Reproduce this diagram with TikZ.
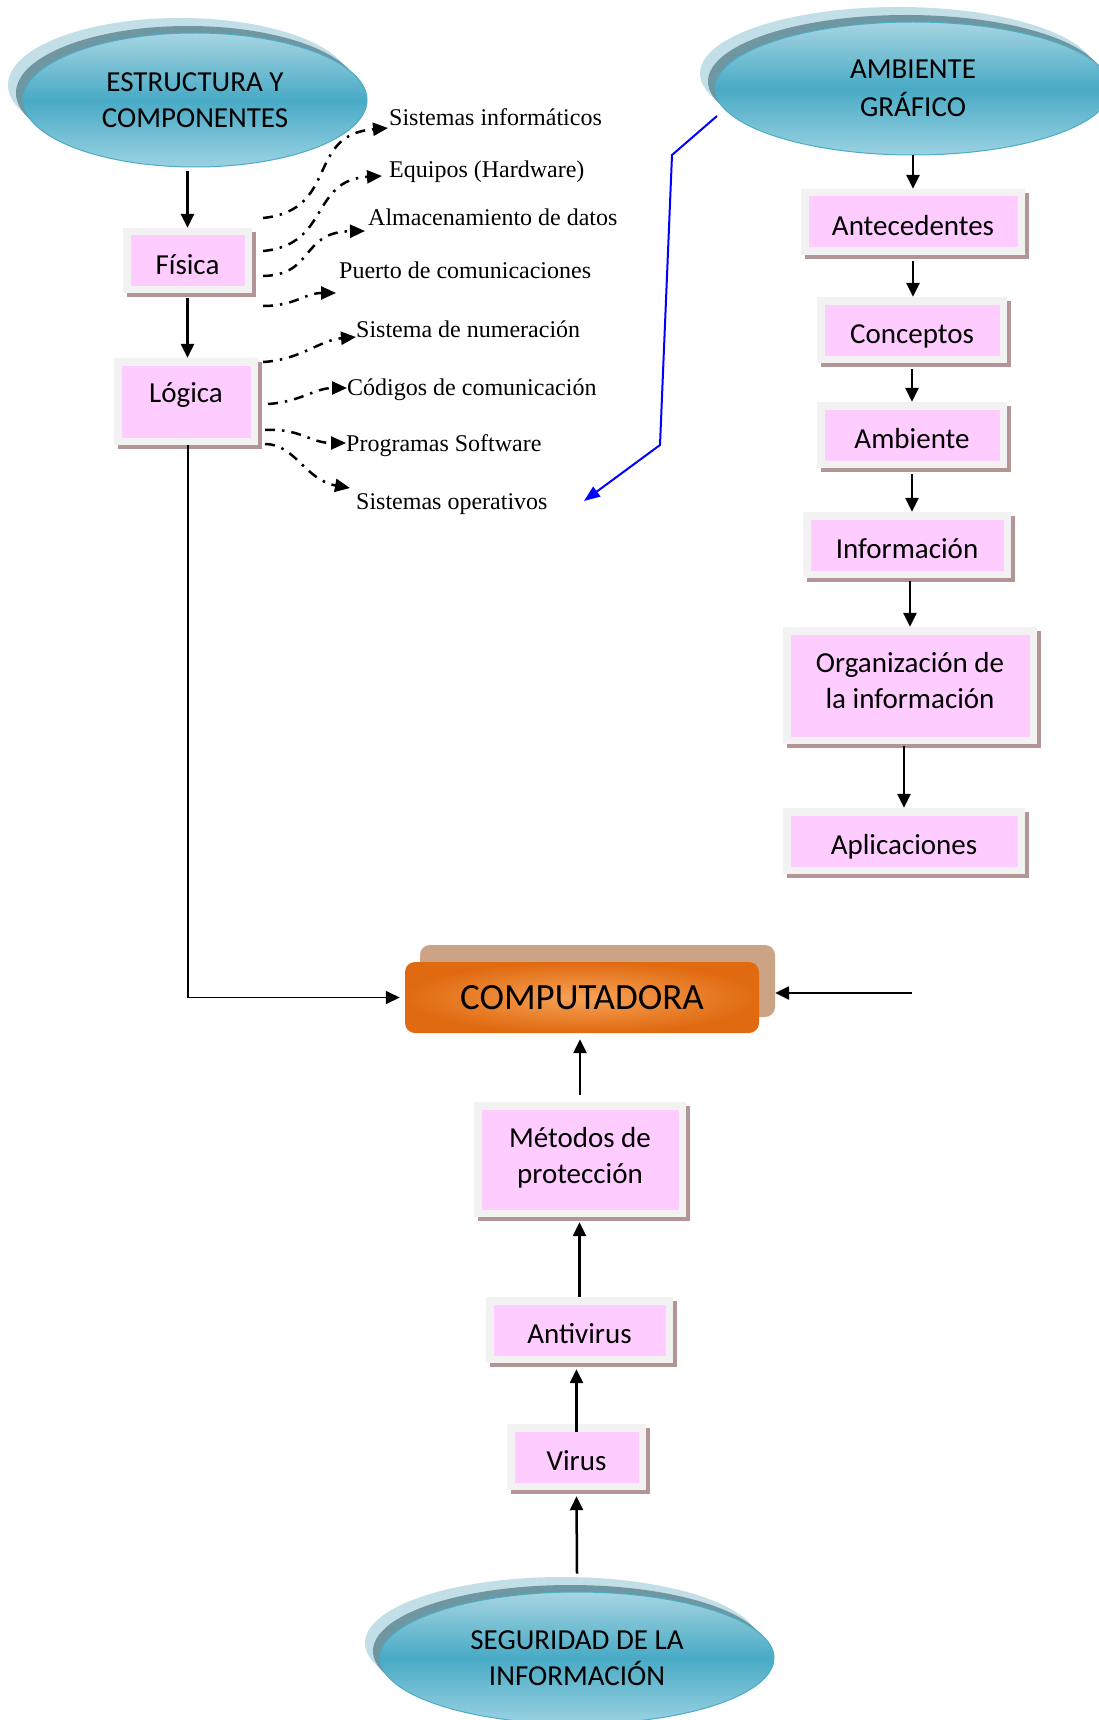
\documentclass[tikz,border=0pt]{standalone}
\usepackage{fontspec}
\setmainfont{Liberation Serif}
\newfontfamily\calib{Carlito}
\usetikzlibrary{arrows.meta,shapes.geometric,shadows}
\definecolor{pinkc}{HTML}{FFCCFF}
\definecolor{framec}{HTML}{F2F2F2}
\definecolor{bshadow}{HTML}{B39595}
\definecolor{elltop}{HTML}{A6D5E2}
\definecolor{ellmid}{HTML}{48AAC5}
\definecolor{ellbot}{HTML}{9BD2E2}
\definecolor{ellline}{HTML}{4BACC6}
\definecolor{ellgrey}{HTML}{6E97A2}
\definecolor{elllight}{HTML}{C2DFE7}
\definecolor{compbackc}{HTML}{CCA385}
\definecolor{compout}{HTML}{E06A10}
\definecolor{compin}{HTML}{F7A257}
\definecolor{bluel}{HTML}{0000FF}
\begin{document}
\begin{tikzpicture}[x=1pt,y=-1pt,
  arr/.style={line width=2.5pt,-{Triangle[length=14pt,width=13pt]}},
  dashdot/.style={line width=2.5pt,dash pattern=on 10pt off 7pt on 2.5pt off 7pt,-{Triangle[length=15pt,width=13pt]}},
  pbox/.style={rectangle,inner sep=0pt,fill=framec,
     general shadow={fill=bshadow,shadow xshift=4pt,shadow yshift=-4pt},
     path picture={\fill[pinkc] ([xshift=7.5pt,yshift=-7.5pt]path picture bounding box.north west) rectangle ([xshift=-7.5pt,yshift=7.5pt]path picture bounding box.south east);},
     font=\calib\fontsize{29}{36}\selectfont, text height=27pt, text depth=0pt},
  oval/.style={ellipse,inner sep=0pt,draw=ellline,line width=1pt,
     general shadow={fill=elllight,shadow xshift=-15pt,shadow yshift=15pt},
     general shadow={fill=ellgrey,shadow xshift=-7pt,shadow yshift=7pt},
     top color=elltop,bottom color=ellbot,middle color=ellmid,
     font=\calib\fontsize{29}{36}\selectfont,align=center},
  lab/.style={anchor=base west,inner sep=0pt,font=\fontsize{24}{28}\selectfont}
]
\useasboundingbox (0,0) rectangle (1099,1720);
\fill[white] (0,0) rectangle (1099,1720);

% ellipses
\node[oval,minimum width=344pt,minimum height=134pt] (e1) at (195,100) {ESTRUCTURA Y\\COMPONENTES};
\node[oval,minimum width=396pt,minimum height=133pt,font=\calib\fontsize{29}{38}\selectfont] (e2) at (913,88.5) {AMBIENTE\\GRÁFICO};
\node[oval,minimum width=394pt,minimum height=132pt] (e3) at (577,1658) {SEGURIDAD DE LA\\INFORMACIÓN};

% left boxes
\node[pbox,minimum width=129pt,minimum height=65pt] (fisica) at (187.5,260.5) {Física};
\node[pbox,minimum width=144pt,minimum height=87pt,text height=24pt,text depth=23pt] (logica) at (186,401.5) {Lógica};

% right column
\node[pbox,minimum width=224pt,minimum height=66pt] (antec) at (913,222) {Antecedentes};
\node[pbox,minimum width=190pt,minimum height=66pt] (conc) at (912,330) {Conceptos};
\node[pbox,minimum width=190pt,minimum height=66pt] (amb) at (912,435) {Ambiente};
\node[pbox,minimum width=208pt,minimum height=66pt] (info) at (907,545) {Información};
\node[pbox,minimum width=254pt,minimum height=117pt,text height=9pt,text depth=36pt] (org) at (910,685.5) {\begin{tabular}[t]{@{}c@{}}Organización de\\la información\end{tabular}};
\node[pbox,minimum width=242pt,minimum height=66pt] (apl) at (904,841) {Aplicaciones};

% bottom column
\node[pbox,minimum width=212pt,minimum height=115pt,text height=11pt,text depth=36pt] (metodos) at (580,1159.5) {\begin{tabular}[t]{@{}c@{}}Métodos de\\protección\end{tabular}};
\node[pbox,minimum width=187pt,minimum height=66pt] (antiv) at (579.5,1330) {Antivirus};
\node[pbox,minimum width=139pt,minimum height=66pt] (virus) at (576.5,1457) {Virus};

% computadora
\node[rectangle,rounded corners=10pt,fill=compbackc,minimum width=355pt,minimum height=72pt] (cback) at (597.5,981) {};
\node[rectangle,rounded corners=10pt,inner color=compin,outer color=compout,minimum width=354pt,minimum height=71pt,inner sep=0pt,font=\calib\fontsize{37}{42}\selectfont,text height=24pt,text depth=0pt] (comp) at (582,997.5) {COMPUTADORA};

% serif labels
\node[lab] (s1) at (389,126) {Sistemas informáticos};
\node[lab] (s2) at (389,178) {Equipos (Hardware)};
\node[lab] (s3) at (368,226) {Almacenamiento de datos};
\node[lab] (s4) at (339,278) {Puerto de comunicaciones};
\node[lab] (s5) at (356,337) {Sistema de numeración};
\node[lab] (s6) at (347,395) {Códigos de comunicación};
\node[lab] (s7) at (346,451) {Programas Software};
\node[lab] (s8) at (356,509) {Sistemas operativos};

% dash-dot connectors
\coordinate (f1) at (263,218);
\coordinate (f2) at (263,251);
\coordinate (f3) at (263,276);
\coordinate (f4) at (263,306);
\coordinate (g1) at (263,362);
\coordinate (g2) at (268,404);
\coordinate (g3) at (265,430);
\coordinate (g4) at (265,444);
\draw[dashdot] (f1) .. controls (340,210) and (305,135) .. ([xshift=-1pt,yshift=-2pt]s1.base west);
\draw[dashdot] (f2) .. controls (330,245) and (310,180) .. ([xshift=-7pt,yshift=2pt]s2.base west);
\draw[dashdot] (f3) .. controls (315,275) and (300,232) .. ([xshift=-3pt,yshift=-5pt]s3.base west);
\draw[dashdot] (f4) .. controls (295,306) and (305,293) .. ([xshift=-3pt,yshift=-15pt]s4.base west);
\draw[dashdot] (g1) .. controls (300,360) and (320,340) .. (s5.base west);
\draw[dashdot] (g2) .. controls (300,402) and (315,388) .. ([yshift=7pt]s6.base west);
\draw[dashdot] (g3) .. controls (300,428) and (310,443) .. ([yshift=8pt]s7.base west);
\draw[dashdot] (g4) .. controls (295,444) and (305,480) .. ([xshift=-6pt,yshift=21pt]s8.base west);

% blue connector
\coordinate (b0) at (717,116);
\coordinate (b3) at (584,501);
\draw[bluel,line width=2pt,-{Triangle[length=16pt,width=12pt]}] (b0) -- (672,155) -- (660,445) -- (b3);

% solid arrows left
\draw[arr,shorten <=4pt] (fisica.north |- e1.south) -- (fisica.north);
\draw[arr,shorten <=5pt] (fisica.south) -- (fisica.south |- logica.north);
\draw[line width=1.5pt,-{Triangle[length=14pt,width=13pt]},shorten >=5pt] ([xshift=2pt]logica.south) |- (comp.west);

% right incoming arrow
\coordinate (rin) at (912,993);
\draw[arr] (rin) -- (rin -| cback.east);

% right column arrows
\draw[arr] (e2.south) -- (e2.south |- antec.north);
\draw[arr,shorten <=6pt] (antec.south) -- (antec.south |- conc.north);
\draw[arr,shorten <=6pt] (conc.south) -- (conc.south |- amb.north);
\draw[arr,shorten <=6pt] (amb.south) -- (amb.south |- info.north);
\draw[arr,shorten <=3pt] (org.north |- info.south) -- (org.north);
\draw[arr,shorten <=2pt] (apl.north |- org.south) -- (apl.north);

% bottom arrows
\draw[arr,shorten <=7pt,shorten >=6pt] (metodos.north) -- (metodos.north |- comp.south);
\draw[arr,shorten >=5pt] (antiv.north) -- (antiv.north |- metodos.south);
\draw[arr,shorten >=6pt] ([yshift=-8pt]virus.north) -- (virus.north |- antiv.south);
\draw[arr] ([yshift=18pt]e3.north) -- ([yshift=-6pt]virus.south);
\end{tikzpicture}
\end{document}
